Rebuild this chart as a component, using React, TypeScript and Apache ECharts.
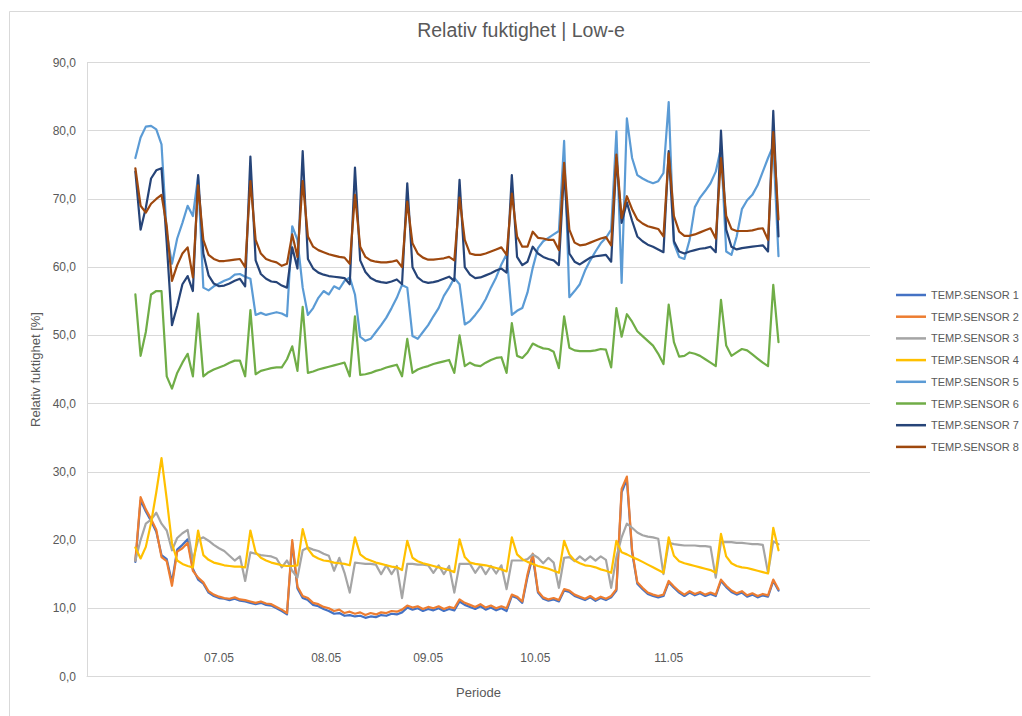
import React, { useEffect, useRef } from "react";
import * as echarts from "echarts";

const FONT = "'Liberation Sans', Arial, sans-serif";
const TEXT = "#595959";
const GRID = "#d9d9d9";

const sensorNames = [
  "TEMP.SENSOR 1", "TEMP.SENSOR 2", "TEMP.SENSOR 3", "TEMP.SENSOR 4",
  "TEMP.SENSOR 5", "TEMP.SENSOR 6", "TEMP.SENSOR 7", "TEMP.SENSOR 8",
];
const sensorColors = ["#4472C4", "#ED7D31", "#A5A5A5", "#FFC000", "#5B9BD5", "#70AD47", "#264478", "#9E480E"];

// x-axis tick labels (positions in sample index units)
const dayLabels = ["07.05", "08.05", "09.05", "10.05", "11.05"];
const dayLabelPos = [16, 36.5, 56, 76.5, 102];

const yTicks = [0, 10, 20, 30, 40, 50, 60, 70, 80, 90];

const sensor1 = [
  16.8, 25.8, 24.2, 22.8, 21.2, 17.8, 17.2, 13.8, 18.6, 19.3,
  20.1, 15.8, 14.2, 13.6, 12.3, 11.8, 11.5, 11.4, 11.2, 11.4,
  11.1, 11.0, 10.8, 10.6, 10.8, 10.5, 10.4, 10.0, 9.6, 9.1,
  19.6, 12.9, 11.5, 11.2, 10.5, 10.3, 9.9, 9.6, 9.2, 9.3,
  8.9, 9.0, 8.8, 8.9, 8.6, 8.8, 8.7, 9.0, 8.9, 9.2,
  9.1, 9.4, 10.1, 9.8, 10.0, 9.6, 9.9, 9.7, 10.0, 9.6,
  9.9, 9.7, 11.0, 10.5, 10.2, 9.9, 10.3, 9.8, 10.1, 9.7,
  10.0, 9.6, 11.8, 11.5, 10.8, 14.6, 17.6, 12.3, 11.4, 11.1,
  11.3, 11.0, 12.6, 12.4, 11.8, 11.5, 11.2, 11.6, 11.1, 11.5,
  11.2, 11.6, 12.6, 27.0, 28.9, 18.2, 13.6, 12.8, 12.1, 11.8,
  11.6, 11.8, 13.8, 13.0, 12.3, 11.8, 12.3, 11.9, 12.2, 11.8,
  12.1, 11.8, 14.0, 13.1, 12.4, 12.0, 12.3, 11.7, 12.0, 11.6,
  11.9, 11.7, 14.0, 12.6,
];

const sensor2 = [
  17.0, 26.3, 24.5, 23.1, 21.5, 17.5, 16.9, 13.3, 18.3, 18.8,
  19.6, 15.5, 14.5, 13.8, 12.5, 12.0, 11.7, 11.5, 11.4, 11.6,
  11.3, 11.2, 11.0, 10.8, 11.0, 10.7, 10.6, 10.2, 9.8, 9.3,
  20.0, 13.2, 11.8, 11.5, 10.8, 10.6, 10.2, 10.0, 9.6, 9.8,
  9.3, 9.5, 9.2, 9.4, 9.0, 9.3, 9.1, 9.4, 9.3, 9.6,
  9.5, 9.8, 10.4, 10.1, 10.3, 9.9, 10.2, 10.0, 10.3, 9.9,
  10.2, 10.0, 11.3, 10.8, 10.5, 10.2, 10.6, 10.1, 10.4, 10.0,
  10.3, 10.0, 12.0, 11.7, 11.0, 15.0, 18.0, 12.5, 11.6, 11.3,
  11.5, 11.2, 12.8, 12.6, 12.0, 11.7, 11.4, 11.8, 11.3, 11.7,
  11.4, 11.8, 12.8, 27.5, 29.3, 18.5, 13.8, 13.0, 12.3, 12.0,
  11.8, 12.0, 14.0, 13.2, 12.5, 12.0, 12.5, 12.1, 12.4, 12.0,
  12.3, 12.0, 14.2, 13.3, 12.6, 12.2, 12.5, 11.9, 12.2, 11.8,
  12.1, 11.9, 14.2, 12.8,
];

const sensor3 = [
  17.0, 20.0, 22.4, 23.0, 24.0, 22.4, 21.4, 18.5, 20.3, 21.0,
  21.5, 17.0, 20.0, 20.4, 19.9, 19.3, 18.8, 18.4, 17.7, 17.0,
  17.6, 14.0, 18.2, 18.0, 17.8, 17.7, 17.6, 17.3, 16.0, 17.0,
  15.5, 14.5, 18.5, 18.9, 18.6, 18.4, 18.0, 17.7, 15.5, 17.4,
  15.2, 12.3, 16.7, 16.6, 16.5, 16.5, 16.4, 15.0, 16.3, 15.0,
  16.2, 11.5, 16.5, 16.5, 16.4, 16.4, 16.3, 15.2, 16.3, 15.0,
  16.2, 12.3, 16.5, 16.5, 16.5, 15.2, 16.3, 15.0, 16.2, 15.1,
  16.3, 12.8, 17.0, 17.0, 17.0, 17.2, 17.9, 17.4, 16.6, 17.4,
  16.7, 13.0, 17.4, 17.5, 16.9, 17.6, 17.0, 17.6, 17.0, 17.6,
  17.1, 13.0, 17.5, 20.4, 22.4, 21.8, 21.1, 20.7, 20.5, 20.4,
  20.2, 15.0, 19.6, 19.4, 19.3, 19.2, 19.2, 19.2, 19.1, 19.1,
  19.0, 14.5, 19.7, 19.7, 19.7, 19.6, 19.6, 19.5, 19.4, 19.4,
  19.3, 15.2, 19.8, 19.4,
];

const sensor4 = [
  18.9, 17.3, 19.0, 22.5, 27.0, 32.0, 26.0, 19.5, 17.0, 16.5,
  16.2, 16.0, 21.4, 17.8, 17.1, 16.7, 16.5, 16.3, 16.2, 16.1,
  16.1, 16.0, 21.4, 18.2, 17.4, 17.0, 16.7, 16.5, 16.3, 16.2,
  16.2, 16.3, 21.6, 18.7, 17.7, 17.3, 17.0, 16.9, 16.7, 16.6,
  16.5, 16.3, 20.4, 17.9, 17.3, 17.0, 16.7, 16.5, 16.3, 16.1,
  16.0, 15.6, 19.9, 17.4, 16.9, 16.6, 16.4, 16.2, 16.0, 15.8,
  15.6, 15.3, 20.1, 17.5, 16.7, 16.5, 16.4, 16.3, 16.1, 15.9,
  15.7, 15.4, 20.4, 17.9, 17.2, 16.8, 16.5, 16.2, 16.0, 15.8,
  15.5, 15.2, 19.9, 17.9, 17.0, 16.6, 16.3, 16.2, 16.0, 15.7,
  15.5, 15.2, 19.9, 18.2, 17.9, 17.5, 17.2, 16.8, 16.4, 16.0,
  15.6, 15.2, 20.4, 17.7, 16.9, 16.6, 16.4, 16.2, 16.0, 15.8,
  15.6, 15.2, 20.9, 17.6, 16.6, 16.2, 16.0, 15.9, 15.7, 15.5,
  15.3, 15.1, 21.8, 18.5,
];

const sensor5 = [
  76.0, 79.0, 80.6, 80.7, 80.2, 78.0, 65.0, 60.5, 64.2, 66.5,
  69.0, 67.5, 73.3, 57.0, 56.6, 57.2, 57.6, 58.0, 58.3, 58.9,
  59.0, 58.6, 58.3, 53.0, 53.3, 53.0, 53.2, 53.4, 53.2, 52.8,
  66.0, 64.0, 57.0, 53.0, 54.0, 55.5, 56.5, 56.0, 57.2, 56.8,
  58.0, 58.5, 56.0, 49.8, 49.2, 49.5, 50.5, 51.5, 52.6, 54.0,
  55.5, 57.4, 57.0, 49.9, 49.5, 50.5, 51.5, 52.8, 54.0, 55.8,
  57.0, 58.4, 57.5, 51.6, 52.1, 53.0, 54.0, 55.3, 57.0, 58.5,
  60.4, 61.9, 53.0, 53.6, 54.0, 56.3, 59.9, 62.8, 63.8, 64.3,
  64.8, 65.3, 78.5, 55.6, 56.5, 57.5, 59.5, 61.0, 62.3, 63.5,
  64.3, 65.5, 79.9, 57.7, 81.8, 76.0, 73.5, 73.0, 72.6, 72.3,
  72.6, 73.8, 84.2, 63.5, 61.5, 61.2, 64.0, 68.8, 70.2, 71.2,
  72.3, 74.0, 77.5, 62.3, 61.8, 64.5, 68.5, 69.8, 70.6, 72.0,
  74.0, 76.0, 77.8, 61.6,
];

const sensor6 = [
  56.0, 47.0, 50.5, 56.0, 56.5, 56.5, 44.0, 42.2, 44.5, 46.0,
  47.3, 44.0, 53.2, 44.0, 44.6, 45.0, 45.3, 45.6, 46.0, 46.3,
  46.3, 44.0, 53.7, 44.3, 44.8, 45.0, 45.2, 45.3, 45.3, 46.5,
  48.4, 44.8, 54.2, 44.5, 44.7, 45.0, 45.2, 45.4, 45.6, 45.8,
  46.0, 44.0, 52.8, 44.2, 44.3, 44.5, 44.8, 45.0, 45.3, 45.5,
  45.7, 44.0, 49.5, 44.5, 45.0, 45.3, 45.5, 45.8, 46.0, 46.2,
  46.4, 44.5, 50.0, 45.5, 46.0, 45.6, 45.5, 46.0, 46.4, 46.7,
  46.8, 44.5, 51.8, 47.0, 46.7, 47.5, 48.8, 48.4, 48.1, 48.0,
  47.6, 45.2, 52.8, 48.2, 47.8, 47.7, 47.7, 47.7, 47.8, 48.0,
  47.9, 45.3, 54.0, 49.8, 53.1, 52.0, 50.6, 49.9, 49.2, 48.5,
  47.3, 45.8, 54.5, 49.0, 46.9, 47.0, 47.5, 47.3, 47.0, 46.5,
  46.0, 45.5, 55.2, 48.5, 47.0, 47.5, 48.0, 47.8, 47.2, 46.6,
  46.0, 45.5, 57.4, 49.0,
];

const sensor7 = [
  74.0, 65.5, 68.7, 73.0, 74.2, 74.5, 63.5, 51.5, 54.3, 57.5,
  58.7, 56.5, 73.5, 62.0, 58.8, 57.6, 57.2, 57.3, 57.6, 58.0,
  58.3, 57.2, 76.2, 61.0, 59.0, 58.3, 57.9, 57.8, 57.3, 57.0,
  62.9, 59.8, 77.0, 61.2, 59.8, 59.2, 58.9, 58.7, 58.6, 58.5,
  58.4, 57.5, 74.6, 61.0, 59.3, 58.4, 58.0, 57.8, 57.7, 57.9,
  58.2, 57.5, 72.3, 60.0, 58.5, 57.9, 57.7, 57.8, 58.0, 58.3,
  58.6, 58.0, 72.8, 60.0, 58.9, 58.4, 58.5, 58.8, 59.1, 59.5,
  59.8, 59.2, 73.5, 61.5, 60.3, 60.8, 63.0, 62.0, 61.5, 61.2,
  61.0, 60.3, 74.2, 62.0, 60.8, 60.4, 60.9, 61.4, 61.6, 61.7,
  61.8, 60.8, 76.0, 66.5, 69.5, 66.8, 64.5, 63.8, 63.3, 63.0,
  62.6, 62.2, 77.0, 63.8, 62.3, 62.0, 62.3, 62.5, 62.7, 62.8,
  63.0, 62.2, 80.0, 65.5, 63.0, 62.6, 62.8, 62.9, 63.0, 63.1,
  63.2, 62.3, 82.9, 64.5,
];

const sensor8 = [
  74.5, 69.0, 68.0, 69.3, 70.0, 70.6, 66.0, 58.0, 60.3, 62.0,
  62.9, 58.5, 72.0, 64.0, 61.8, 61.2, 60.9, 60.9, 61.0, 61.1,
  61.2, 60.0, 72.6, 64.0, 62.0, 61.2, 60.9, 60.7, 60.2, 60.5,
  64.8, 61.5, 72.6, 64.5, 63.0, 62.5, 62.2, 61.9, 61.7, 61.5,
  61.4, 60.5, 70.6, 63.0, 61.5, 61.0, 60.8, 60.7, 60.7, 60.8,
  61.0, 60.0, 69.6, 63.5, 62.0, 61.4, 61.1, 61.1, 61.2, 61.3,
  61.5, 61.0, 70.2, 64.0, 62.0, 61.8, 61.8, 62.0, 62.3, 62.6,
  62.9, 61.8, 70.8, 64.5, 63.0, 63.0, 65.2, 64.3, 64.2, 64.0,
  64.0, 62.5, 75.3, 65.5, 63.6, 63.2, 63.3, 63.6, 63.9, 64.2,
  64.4, 63.2, 76.5, 67.2, 70.4, 68.5, 67.0, 66.4, 66.0, 65.8,
  65.6, 64.5, 76.7, 67.5, 65.2, 64.6, 64.6, 64.8, 65.1, 65.4,
  65.7, 64.2, 76.0, 67.5, 65.6, 65.3, 65.3, 65.3, 65.4, 65.6,
  65.7, 64.0, 79.8, 67.0,
];

const sensorValues = [sensor1, sensor2, sensor3, sensor4, sensor5, sensor6, sensor7, sensor8];

export default function App() {
  const ref = useRef<HTMLDivElement>(null);

  useEffect(() => {
    if (!ref.current) return;
    const chart = echarts.init(ref.current, null, { renderer: "svg" });

    const series = sensorValues.map((vals, s) => ({
      name: sensorNames[s],
      type: "line",
      data: vals.map((v, i) => [i, v]),
      symbol: "none",
      showSymbol: false,
      smooth: false,
      color: sensorColors[s],
      lineStyle: { color: sensorColors[s], width: 2.2, join: "round", cap: "round" },
      emphasis: { disabled: true },
      z: 2 + s,
    }));

    const option: any = {
      animation: false,
      backgroundColor: "#ffffff",
      textStyle: { fontFamily: FONT },
      title: {
        text: "Relativ fuktighet | Low-e",
        left: 521,
        top: 20,
        textAlign: "center",
        padding: 0,
        textStyle: { fontFamily: FONT, fontSize: 19.5, fontWeight: "normal", color: TEXT },
      },
      graphic: [
        {
          type: "rect",
          shape: { x: 9.5, y: 11.5, width: 1100, height: 800 },
          style: { fill: "none", stroke: GRID, lineWidth: 1 },
          silent: true,
          z: -10,
        },
      ],
      legend: {
        orient: "vertical",
        left: 896,
        top: 288,
        padding: 0,
        icon: "rect",
        itemWidth: 30,
        itemHeight: 2.5,
        itemGap: 7.7,
        selectedMode: false,
        data: sensorNames,
        textStyle: { fontFamily: FONT, fontSize: 11, lineHeight: 14, color: TEXT },
      },
      grid: { left: 87, right: 152, top: 62.5, bottom: 39.5, containLabel: false },
      xAxis: {
        type: "value",
        min: -9.25,
        max: 140.5,
        name: "Periode",
        nameLocation: "middle",
        nameGap: 9,
        nameTextStyle: { fontFamily: FONT, fontSize: 13, color: TEXT },
        axisLine: { show: true, onZero: false, lineStyle: { color: GRID, width: 1 } },
        axisTick: { show: false },
        splitLine: { show: false },
        axisLabel: {
          inside: true,
          margin: 13,
          customValues: dayLabelPos,
          formatter: (v: number) => {
            let best = 0;
            for (let k = 1; k < dayLabelPos.length; k++) {
              if (Math.abs(dayLabelPos[k] - v) < Math.abs(dayLabelPos[best] - v)) best = k;
            }
            return Math.abs(dayLabelPos[best] - v) < 0.3 ? dayLabels[best] : "";
          },
          fontFamily: FONT,
          fontSize: 12,
          color: TEXT,
        },
      },
      yAxis: {
        type: "value",
        min: yTicks[0],
        max: yTicks[yTicks.length - 1],
        interval: 10,
        name: "Relativ fuktighet [%]",
        nameLocation: "middle",
        nameRotate: 90,
        nameGap: 43,
        nameTextStyle: { fontFamily: FONT, fontSize: 13, color: TEXT },
        axisLine: { show: true, onZero: false, lineStyle: { color: GRID, width: 1 } },
        axisTick: { show: false },
        splitLine: { show: true, lineStyle: { color: GRID, width: 1 } },
        axisLabel: {
          margin: 11,
          formatter: (v: number) => v.toFixed(1).replace(".", ","),
          fontFamily: FONT,
          fontSize: 12,
          color: TEXT,
        },
      },
      series,
    };

    chart.setOption(option);
    return () => chart.dispose();
  }, []);

  return (
    <div
      ref={ref}
      style={{ position: "fixed", left: 0, top: 0, width: 1022, height: 716, background: "#fff" }}
    />
  );
}
